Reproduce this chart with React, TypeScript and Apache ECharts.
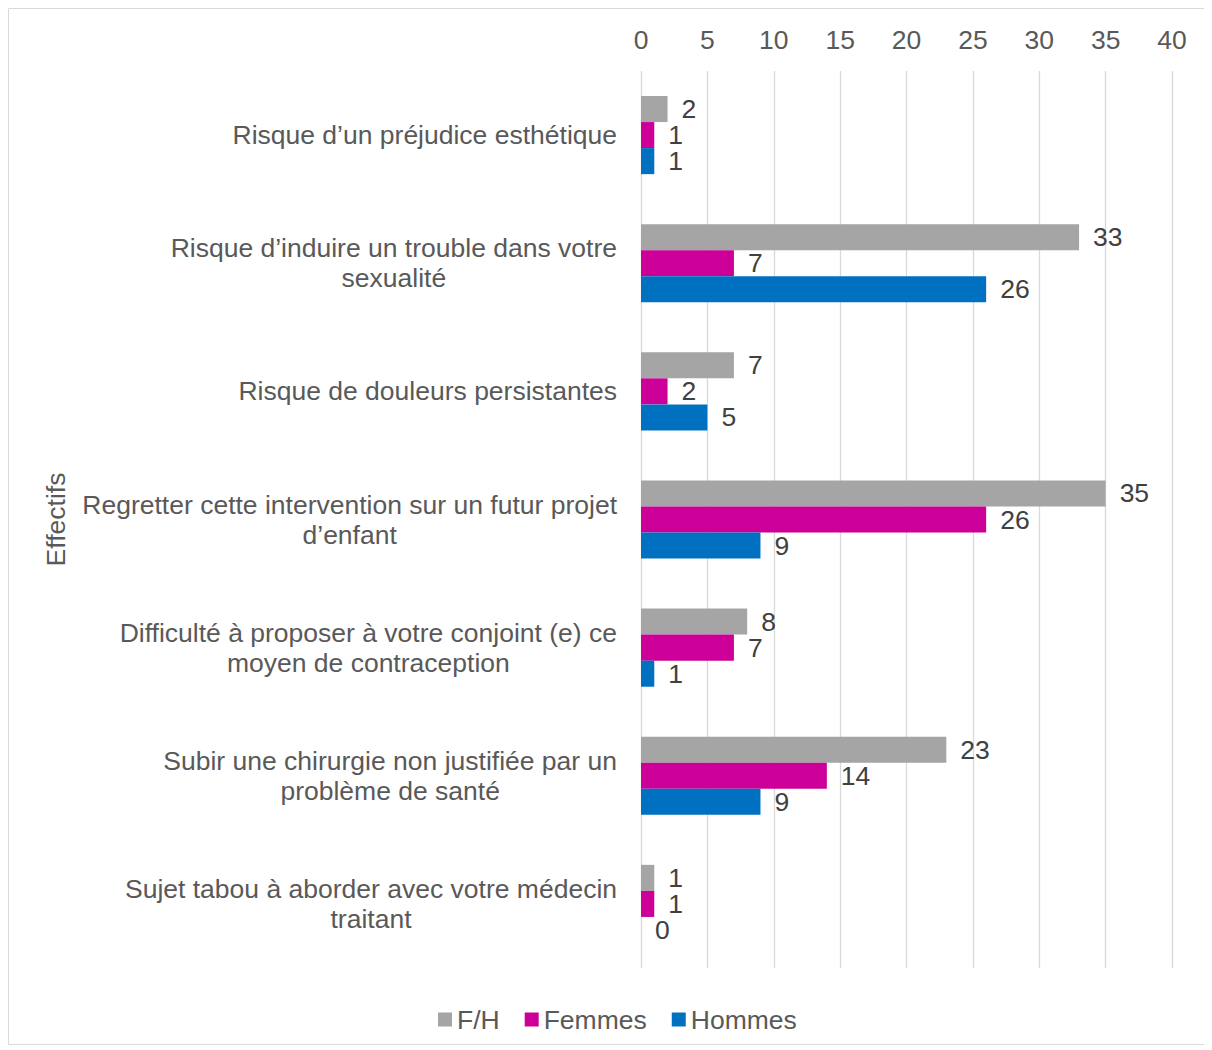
import React, { useEffect, useRef } from "react";
import * as echarts from "echarts";

const categories = [
  "Risque d’un préjudice esthétique",
  "Risque d’induire un trouble dans votre\nsexualité",
  "Risque de douleurs persistantes",
  "Regretter cette intervention sur un futur projet\nd’enfant",
  "Difficulté à proposer à votre conjoint (e) ce\nmoyen de contraception",
  "Subir une chirurgie non justifiée par un\nproblème de santé",
  "Sujet tabou à aborder avec votre médecin\ntraitant",
];
const seriesNames = ["F/H", "Femmes", "Hommes"];
const fhValues = [2, 33, 7, 35, 8, 23, 1];
const femmesValues = [1, 7, 2, 26, 7, 14, 1];
const hommesValues = [1, 26, 5, 9, 1, 9, 0];
const xTicks = { min: 0, max: 40, interval: 5 };
const colors = ["#A5A5A5", "#CC0099", "#0070C0"];

export default function App() {
  const ref = useRef<HTMLDivElement>(null);
  useEffect(() => {
    if (!ref.current) return;
    const chart = echarts.init(ref.current, undefined, { renderer: "svg" });
    const font = "Liberation Sans, Arial, sans-serif";
    const fs = 26.5;
    const values = [fhValues, femmesValues, hommesValues];
    chart.setOption({
      animation: false,
      textStyle: { fontFamily: font },
      graphic: [
        {
          type: "rect",
          shape: { x: 0.5, y: 0.5, width: 1210, height: 1036 },
          style: { fill: "none", stroke: "#d9d9d9", lineWidth: 1 },
          silent: true,
        },
      ],
      grid: { left: 633, right: 40, top: 63, bottom: 82, containLabel: false },
      legend: {
        bottom: 12,
        left: 425,
        itemWidth: 14,
        itemHeight: 14,
        itemGap: 25,
        icon: "rect",
        textStyle: { color: "#595959", fontSize: fs, fontFamily: font },
        data: seriesNames,
      },
      xAxis: {
        type: "value",
        position: "top",
        min: xTicks.min,
        max: xTicks.max,
        interval: xTicks.interval,
        axisLine: { show: false },
        axisTick: { show: false },
        splitLine: { show: true, lineStyle: { color: "#d9d9d9", width: 1.3 } },
        axisLabel: { color: "#595959", fontSize: fs, margin: 18, fontFamily: font },
      },
      yAxis: {
        type: "category",
        inverse: true,
        data: categories,
        name: "Effectifs",
        nameLocation: "middle",
        nameGap: 572,
        nameRotate: 90,
        nameTextStyle: { color: "#595959", fontSize: fs, fontFamily: font },
        axisLine: { show: false },
        axisTick: { show: false },
        axisLabel: {
          color: "#595959",
          fontSize: fs,
          margin: 24,
          fontFamily: font,
          lineHeight: 30,
          formatter: (v: string) =>
            v
              .split("\n")
              .map((l) => `{c|${l}}`)
              .join("\n"),
          rich: {
            c: { align: "center", fontSize: fs, color: "#595959", lineHeight: 30, fontFamily: font },
          },
        },
      },
      series: seriesNames.map((name, i) => ({
        name,
        type: "bar",
        data: values[i],
        barGap: "0%",
        barCategoryGap: "39%",
        itemStyle: { color: colors[i] },
        label: {
          show: true,
          position: "right",
          distance: 14,
          color: "#404040",
          fontSize: fs,
          lineHeight: 24,
          fontFamily: font,
        },
      })),
    });
    return () => chart.dispose();
  }, []);
  return <div ref={ref} style={{ width: 1204, height: 1042 }} />;
}
